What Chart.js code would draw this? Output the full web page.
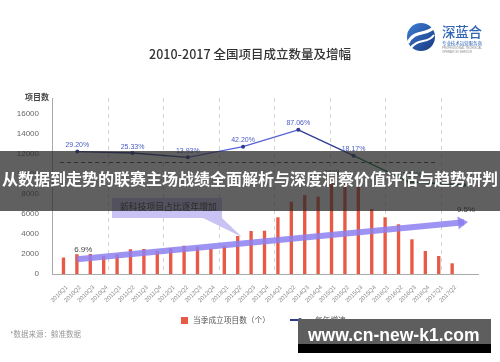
<!DOCTYPE html>
<html>
<head>
<meta charset="utf-8">
<script src="https://cdn.jsdelivr.net/npm/chart.js@4.4.1/dist/chart.umd.min.js"></script>
<style>
  html, body { margin: 0; padding: 0; background: #fff; }
  body { width: 500px; height: 362px; position: relative; overflow: hidden; font-family: "Noto Sans CJK SC", "Noto Sans", sans-serif; }
  #wrap { position: absolute; left: 0; top: 0; width: 500px; height: 362px; }
  .abs { position: absolute; white-space: nowrap; }
  .title { left: 0; width: 500px; top: 44px; text-align: center; font-size: 12.5px; color: #333; font-weight: 500; }
  .ytitle { left: 25px; top: 90.5px; font-size: 8px; color: #444; font-weight: 700; }
  .legend-box { left: 181px; top: 316.5px; width: 7px; height: 7px; background: #e85a45; }
  .legend-text { top: 314px; font-size: 7.7px; color: #555; }
  .legend-line { left: 290px; top: 319.4px; width: 18px; height: 1.3px; background: #2e3c8f; }
  .legend-dot { left: 298px; top: 318px; width: 4.4px; height: 4.4px; border-radius: 50%; background: #2e3c8f; }
  .source { left: 10px; top: 328px; font-size: 7.5px; color: #999; }
  .callout-text { left: 120px; top: 199.8px; font-size: 8.8px; color: #333; }
  .banner { left: 0; top: 151px; width: 500px; height: 60px; background: rgba(40,40,40,0.74); color: #fff;
            font-size: 16px; font-weight: 700; line-height: 54px; text-align: center; }
  .site { left: 298px; top: 319px; width: 193px; height: 34px; background: linear-gradient(#5e5e5e 0 25px, #000 25px 34px); }
  .site span { position: absolute; left: 10px; top: 8.2px; font-family: "Liberation Sans", Arial, sans-serif;
               font-weight: 700; font-size: 17.5px; line-height: 17.5px; color: #fff; }
</style>
</head>
<body>
<div id="wrap"><canvas id="chart"></canvas></div>

<div class="abs title">2010-2017 全国项目成立数量及增幅</div>
<div class="abs ytitle">项目数</div>

<!-- callout pointing at the share arrow -->
<svg class="abs" style="left:0;top:0" width="500" height="362">
  <rect x="112" y="198" width="110" height="20" fill="#c8c3f4"/>
  <polygon points="203,218 222,218 242,237" fill="#c8c3f4"/>
</svg>
<div class="abs callout-text">新科技项目占比逐年增加</div>

<!-- logo -->
<svg class="abs" style="left:0;top:0" width="500" height="362">
  <defs>
    <linearGradient id="lg" x1="0" y1="0" x2="1" y2="1">
      <stop offset="0" stop-color="#3f7fd6"/>
      <stop offset="1" stop-color="#17397e"/>
    </linearGradient>
  </defs>
  <circle cx="421" cy="37" r="14" fill="url(#lg)"/>
  <path d="M408,43 C414,29 427,36 434,27" stroke="#fff" stroke-width="3" fill="none"/>
  <path d="M410,49 C417,38 428,44 434,35" stroke="#fff" stroke-width="2" fill="none"/>
  <text x="442" y="37" font-size="13.5" fill="#3266b5" font-family="Noto Sans CJK SC" font-weight="500" textLength="40">深蓝合</text>
  <text x="442" y="45" font-size="4.6" fill="#3266b5" font-family="Noto Sans CJK SC" textLength="40">专业技术运营服务商</text>
  <text x="442" y="49" font-size="2.8" fill="#8a8a8a" font-family="Liberation Sans" textLength="40">PROFESSIONAL TECHNICAL</text>
  <text x="442" y="52.5" font-size="2.8" fill="#8a8a8a" font-family="Liberation Sans" textLength="30">OPERATION SERVICE</text>
</svg>

<div class="abs banner">从数据到走势的联赛主场战绩全面解析与深度洞察价值评估与趋势研判</div>

<div class="abs legend-box"></div>
<div class="abs legend-text" style="left:193px">当季成立项目数（个）</div>
<div class="abs legend-line"></div>
<div class="abs legend-dot"></div>
<div class="abs legend-text" style="left:315px">每年增速</div>
<div class="abs source">*数据来源：鲸准数据</div>

<div class="abs site"><span>www.cn-new-k1.com</span></div>

<script>
// quarterly new projects
const QUARTERS = [
  '2010Q1', '2010Q2', '2010Q3', '2010Q4', '2011Q1', '2011Q2', '2011Q3', '2011Q4',
  '2012Q1', '2012Q2', '2012Q3', '2012Q4', '2013Q1', '2013Q2', '2013Q3', '2013Q4',
  '2014Q1', '2014Q2', '2014Q3', '2014Q4', '2015Q1', '2015Q2', '2015Q3', '2015Q4',
  '2016Q1', '2016Q2', '2016Q3', '2016Q4', '2017Q1', '2017Q2'
];
const PROJECTS = [
  1650, 1980, 2000, 1800, 1980, 2480, 2500, 2300,
  2580, 2830, 2730, 2520, 2830, 3800, 4300, 4330,
  5670, 7230, 7900, 7730, 9633, 9100, 8700, 6500,
  5670, 4970, 3470, 2300, 1800, 1070
];
const Y_TICKS = [0, 2000, 4000, 6000, 8000, 10000, 12000, 14000, 16000];

// yearly growth (%)
const YEARS = [2010, 2011, 2012, 2013, 2014, 2015, 2016, 2017];
const GROWTH = [29.20, 25.33, 13.93, 42.20, 87.06, 18.17, -51.36, -60];

// share of new-tech projects (%), trend arrow
const SHARE_YEARS = [2010, 2017];
const SHARE = [6.9, 9.5];

const RED = '#e85a45';
const NAVY = '#2e3c8f';
const LIGHT_BLUE = '#5563d6';
const GREEN = '#1f7a3f';
const LAVENDER = 'rgba(140,128,240,0.85)';

// dashed separators between years, after each Q4
const YEAR_BREAKS = QUARTERS.flatMap((q, i) => q.endsWith('Q4') ? [i + 0.5] : []);

const xRange = { min: -0.577, max: 30.15 };

const markPlugin = {
  id: 'marks',
  afterDatasetsDraw(chart) {
    const ctx = chart.ctx;
    ctx.save();
    ctx.textAlign = 'center';
    ctx.textBaseline = 'alphabetic';

    // peak quarter value
    const bars = chart.getDatasetMeta(0).data;
    const peak = PROJECTS.indexOf(Math.max(...PROJECTS));
    ctx.font = '7px "Liberation Sans", Arial, sans-serif';
    ctx.fillStyle = '#666';
    ctx.fillText(String(PROJECTS[peak]), bars[peak].x, bars[peak].y - 3);

    // growth labels (2017 is half a year, left unlabeled as in the source)
    const pts = chart.getDatasetMeta(2).data;
    pts.forEach((p, i) => {
      if (i === GROWTH.length - 1) return;
      ctx.fillStyle = GROWTH[i] < 0 ? GREEN : '#4a5cc4';
      ctx.fillText(GROWTH[i].toFixed(2) + '%', p.x, p.y - 4.5);
    });

    // arrow head + share labels
    const a = chart.getDatasetMeta(1).data;
    const p0 = a[0], p1 = a[a.length - 1];
    const ang = Math.atan2(p1.y - p0.y, p1.x - p0.x);
    const c = Math.cos(ang), s = Math.sin(ang);
    const tip = { x: p1.x + c * 4, y: p1.y + s * 4 };
    const base = { x: p1.x - c * 6, y: p1.y - s * 6 };
    ctx.fillStyle = LAVENDER;
    ctx.beginPath();
    ctx.moveTo(tip.x, tip.y);
    ctx.lineTo(base.x - s * 6.5, base.y + c * 6.5);
    ctx.lineTo(base.x + s * 6.5, base.y - c * 6.5);
    ctx.closePath();
    ctx.fill();

    ctx.font = '8px "Liberation Sans", Arial, sans-serif';
    ctx.fillStyle = '#444';
    ctx.fillText(SHARE[0] + '%', p0.x + 6, p0.y - 7);
    ctx.fillText(SHARE[1] + '%', p1.x + 2, p1.y - 10);
    ctx.restore();
  }
};

new Chart(document.getElementById('chart'), {
  data: {
    datasets: [
      {
        type: 'bar',
        label: '当季成立项目数（个）',
        data: PROJECTS.map((v, i) => ({ x: i, y: v })),
        backgroundColor: RED,
        barPercentage: 0.5,
        categoryPercentage: 1,
        xAxisID: 'x',
        yAxisID: 'y',
        order: 5
      },
      {
        type: 'line',
        label: 'share',
        data: SHARE_YEARS.map((y, i) => ({ x: y, y: SHARE[i] })),
        borderColor: LAVENDER,
        borderWidth: 6,
        pointRadius: 0,
        xAxisID: 'x3',
        yAxisID: 'y3',
        order: 2
      },
      {
        type: 'line',
        label: '每年增速',
        data: YEARS.map((y, i) => ({ x: y, y: GROWTH[i] })),
        borderColor: NAVY,
        borderWidth: 1.3,
        segment: {
          borderColor: c => c.p1.parsed.y < 0 ? GREEN : (c.p1.parsed.y > c.p0.parsed.y ? LIGHT_BLUE : NAVY)
        },
        pointRadius: 2,
        pointBackgroundColor: c => c.parsed && c.parsed.y < 0 ? GREEN : NAVY,
        pointBorderWidth: 0,
        xAxisID: 'x3',
        yAxisID: 'y2',
        order: 1
      },
      {
        type: 'line',
        label: 'zero',
        data: [{ x: -0.5, y: 0 }, { x: YEAR_BREAKS[YEAR_BREAKS.length - 1], y: 0 }],
        borderColor: '#444',
        borderWidth: 1,
        borderDash: [4, 3],
        pointRadius: 0,
        xAxisID: 'x',
        yAxisID: 'y2',
        order: 3
      }
    ]
  },
  options: {
    responsive: true,
    maintainAspectRatio: false,
    animation: false,
    layout: { padding: { left: 0, top: 98, right: 22, bottom: 58 } },
    plugins: { legend: { display: false }, tooltip: { enabled: false } },
    scales: {
      x: {
        type: 'linear',
        ...xRange,
        afterBuildTicks: s => { s.ticks = QUARTERS.map((_, i) => ({ value: i })); },
        afterFit: s => { s.height = 30; },
        grid: { display: false },
        border: { color: '#aaa' },
        ticks: {
          autoSkip: false,
          minRotation: 45,
          maxRotation: 45,
          padding: 2,
          color: '#8a8a8a',
          font: { size: 6, family: 'Liberation Sans, Arial, sans-serif' },
          callback: v => QUARTERS[v] ?? ''
        }
      },
      xg: {
        type: 'linear',
        position: 'bottom',
        ...xRange,
        afterBuildTicks: s => { s.ticks = YEAR_BREAKS.map(v => ({ value: v })); },
        afterFit: s => { s.height = 0; },
        grid: { color: '#d2d2d2', drawTicks: false },
        border: { display: false, dash: [4, 4] },
        ticks: { display: false }
      },
      x3: { type: 'linear', display: false, min: 2009.542, max: 2017.253 },
      y: {
        min: 0,
        max: 17600,
        afterBuildTicks: s => { s.ticks = Y_TICKS.map(v => ({ value: v })); },
        afterFit: s => { s.width = 52; },
        grid: { display: false },
        border: { color: '#aaa' },
        ticks: {
          padding: 5,
          color: '#666',
          font: { size: 8, family: 'Liberation Sans, Arial, sans-serif' },
          callback: v => String(v)
        }
      },
      y2: { display: false, min: -297.3, max: 172 },
      y3: { display: false, min: 5.867, max: 18.235 }
    }
  },
  plugins: [markPlugin]
});
</script>
</body>
</html>
